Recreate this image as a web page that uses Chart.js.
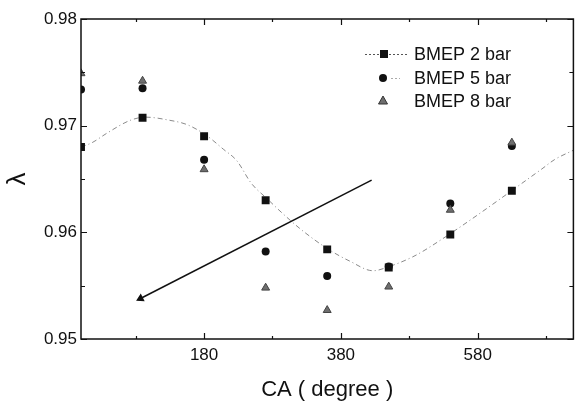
<!DOCTYPE html>
<html>
<head>
<meta charset="utf-8">
<script src="https://cdn.jsdelivr.net/npm/chart.js@4.4.1/dist/chart.umd.min.js"></script>
<style>
  html, body { margin: 0; padding: 0; background: #fff; }
  #wrap { width: 579px; height: 404px; position: relative; }
</style>
</head>
<body>
<div id="wrap"><canvas id="lambdaChart"></canvas></div>
<script>
// --- data
const caDeg = [0, 90, 180, 270, 360, 450, 540, 630];
const bmep2 = [0.9680, 0.97075, 0.9690, 0.9630, 0.9584, 0.9567, 0.9598, 0.9639];
const bmep5 = [0.9734, 0.9735, 0.9668, 0.9582, 0.9559, 0.9568, 0.9627, 0.9681];
const bmep8 = [0.9749, 0.9742, 0.9659, 0.9548, 0.9527, 0.9549, 0.9621, 0.9684];

// smooth trend line drawn through the 2 bar points
const fitCA = [0, 16, 38, 72, 94, 130, 155, 183, 208, 228, 249, 273, 296, 325, 362, 393, 427, 451, 485, 507, 673, 692, 720];
const fitLambda = [0.9680, 0.9684, 0.9693, 0.9705, 0.9708, 0.9705, 0.9701, 0.9691, 0.9678, 0.9667, 0.9646, 0.9631,
                   0.9617, 0.9601, 0.9584, 0.9573, 0.9564, 0.9568, 0.9577, 0.9585, 0.9659, 0.9668, 0.9677];

// the solid arrow line
const arrowCA = [87, 425];
const arrowLambda = [0.9538, 0.9649];

const xTickValues = [80, 180, 280, 380, 480, 580, 680];
const xTickLabels = [180, 380, 580];
const seriesNames = ['BMEP 2 bar', 'BMEP 5 bar', 'BMEP 8 bar'];

const FONT = '"Liberation Sans", Arial, sans-serif';

function toPoints(xs, ys) {
  return xs.map((x, i) => ({ x: x, y: ys[i] }));
}

// frame + inward tick marks on all four sides
const frameTicks = {
  id: 'frameTicks',
  afterDraw(chart) {
    const { ctx, chartArea: a, scales } = chart;
    ctx.save();
    ctx.strokeStyle = '#111';
    ctx.lineWidth = 1.5;
    ctx.strokeRect(a.left, a.top, a.right - a.left, a.bottom - a.top);
    ctx.lineWidth = 1.2;
    ctx.beginPath();
    scales.x.ticks.forEach(t => {
      const px = Math.round(scales.x.getPixelForValue(t.value)) + 0.5;
      const len = xTickLabels.includes(t.value) ? 6 : 3;
      ctx.moveTo(px, a.bottom); ctx.lineTo(px, a.bottom - len);
      ctx.moveTo(px, a.top); ctx.lineTo(px, a.top + len);
    });
    scales.y.ticks.forEach(t => {
      const py = Math.round(scales.y.getPixelForValue(t.value)) + 0.5;
      const len = Math.round(t.value * 200) % 2 === 0 ? 6 : 4;
      ctx.moveTo(a.left, py); ctx.lineTo(a.left + len, py);
      ctx.moveTo(a.right, py); ctx.lineTo(a.right - len, py);
    });
    ctx.stroke();
    ctx.restore();
  }
};

// legend drawn inside the plot, top right
const innerLegend = {
  id: 'innerLegend',
  afterDraw(chart) {
    const ctx = chart.ctx;
    const x0 = 365, x1 = 407, mx = 384, tx = 414;
    const rows = [54, 78, 101];
    ctx.save();
    // 2 bar: dashed line with square
    ctx.strokeStyle = '#555';
    ctx.lineWidth = 1;
    ctx.setLineDash([2, 2]);
    ctx.beginPath(); ctx.moveTo(x0, rows[0] + 0.5); ctx.lineTo(x1, rows[0] + 0.5); ctx.stroke();
    // 5 bar: short faint dots after circle
    ctx.strokeStyle = '#aaa';
    ctx.beginPath(); ctx.moveTo(mx + 7, rows[1] + 0.5); ctx.lineTo(mx + 16, rows[1] + 0.5); ctx.stroke();
    ctx.setLineDash([]);
    ctx.fillStyle = '#111';
    ctx.fillRect(mx - 4, rows[0] - 4, 8, 8);
    ctx.beginPath(); ctx.arc(mx - 1, rows[1], 4, 0, Math.PI * 2); ctx.fill();
    ctx.fillStyle = '#6e6e6e';
    ctx.strokeStyle = '#333';
    ctx.beginPath();
    ctx.moveTo(mx - 1, rows[2] - 5); ctx.lineTo(mx + 3.5, rows[2] + 3); ctx.lineTo(mx - 5.5, rows[2] + 3);
    ctx.closePath(); ctx.fill(); ctx.stroke();
    ctx.fillStyle = '#111';
    ctx.font = '18px ' + FONT;
    ctx.textBaseline = 'middle';
    seriesNames.forEach((n, i) => ctx.fillText(n, tx, rows[i] + 1));
    ctx.restore();
  }
};

new Chart(document.getElementById('lambdaChart'), {
  type: 'scatter',
  data: {
    datasets: [
      {
        label: seriesNames[2],
        data: toPoints(caDeg, bmep8),
        pointStyle: 'triangle',
        pointRadius: 4.6,
        backgroundColor: '#6e6e6e',
        borderColor: '#444',
        borderWidth: 1,
      },
      {
        label: seriesNames[1],
        data: toPoints(caDeg, bmep5),
        pointStyle: 'circle',
        pointRadius: 4,
        backgroundColor: '#111',
        borderColor: '#111',
        borderWidth: 0,
      },
      {
        label: seriesNames[0],
        data: toPoints(caDeg, bmep2),
        pointStyle: 'rect',
        pointRadius: 5.6,
        backgroundColor: '#111',
        borderColor: '#111',
        borderWidth: 0,
      },
      {
        label: 'fit',
        data: toPoints(fitCA, fitLambda),
        showLine: true,
        pointRadius: 0,
        borderColor: '#8a8a8a',
        borderWidth: 1,
        borderDash: [5, 3, 1, 3],
        cubicInterpolationMode: 'monotone',
      },
      {
        label: 'arrow',
        data: toPoints(arrowCA, arrowLambda),
        showLine: true,
        borderColor: '#111',
        borderWidth: 1.5,
        pointStyle: 'triangle',
        pointRadius: [3.5, 0],
        pointRotation: 243,
        backgroundColor: '#111',
        borderDash: [],
      },
    ],
  },
  options: {
    responsive: true,
    maintainAspectRatio: false,
    animation: false,
    layout: { padding: { top: 19, right: 5, left: 0, bottom: 0 } },
    plugins: {
      legend: { display: false },
      tooltip: { enabled: false },
    },
    scales: {
      x: {
        type: 'linear',
        min: 0,
        max: 720,
        grid: { display: false, drawTicks: false },
        border: { display: false },
        afterBuildTicks: s => { s.ticks = xTickValues.map(v => ({ value: v })); },
        afterFit: s => { s.height = 65; },
        ticks: {
          padding: 6,
          color: '#111',
          font: { family: FONT, size: 17 },
          maxRotation: 0,
          autoSkip: false,
          callback: v => (xTickLabels.includes(v) ? String(v) : ''),
        },
        title: {
          display: true,
          text: 'CA ( degree )',
          color: '#111',
          font: { family: FONT, size: 22 },
          padding: { top: 0, bottom: 1 },
        },
      },
      y: {
        min: 0.95,
        max: 0.98,
        grid: { display: false, drawTicks: false },
        border: { display: false },
        afterFit: s => { s.width = 81; },
        ticks: {
          stepSize: 0.005,
          padding: 4,
          color: '#111',
          font: { family: FONT, size: 17 },
          callback: v => (Math.round(v * 200) % 2 === 0 ? v.toFixed(2) : ''),
        },
        title: {
          display: true,
          text: 'λ',
          color: '#111',
          font: { family: FONT, size: 26 },
          padding: { top: 2, bottom: 6 },
        },
      },
    },
  },
  plugins: [frameTicks, innerLegend],
});
</script>
</body>
</html>
